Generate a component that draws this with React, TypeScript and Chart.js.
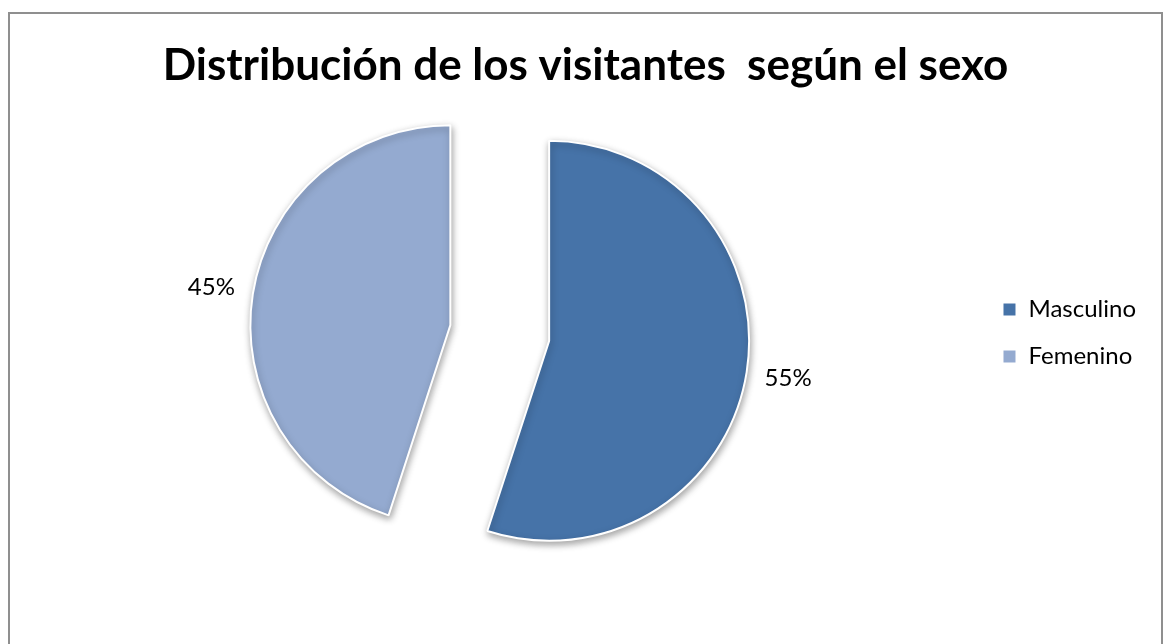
import React, { useEffect, useRef } from "react";
import { Chart, registerables } from "chart.js";

Chart.register(...registerables);

const categories = ["Masculino", "Femenino"];
const percentages = [55, 45];
const sliceColors = ["#4673A8", "#94AAD0"];
const chartTitle = "Distribución de los visitantes  según el sexo";

const FONT = 'Lato, "Open Sans", "DejaVu Sans", sans-serif';
const EXPLODE = 50;
const LABEL_GAP = 42;

const framePlugin = {
  id: "frame",
  beforeDraw(chart: any) {
    const ctx = chart.ctx;
    ctx.save();
    ctx.fillStyle = "#ffffff";
    ctx.fillRect(0, 0, chart.width, chart.height);
    ctx.strokeStyle = "#8f8f8f";
    ctx.lineWidth = 2;
    ctx.strokeRect(9, 13, 1153, 700);
    ctx.restore();
  },
};

const layoutFix = {
  id: "layoutFix",
  afterLayout(chart: any) {
    const t = chart.titleBlock;
    if (t) {
      t.left = 9;
      t.right = 1162;
    }
  },
};

const explodePlugin = {
  id: "explode",
  afterDatasetsUpdate(chart: any) {
    const meta = chart.getDatasetMeta(0);
    meta.data.forEach((arc: any) => {
      const mid = (arc.startAngle + arc.endAngle) / 2;
      arc.x += Math.cos(mid) * EXPLODE;
      arc.y += Math.sin(mid) * EXPLODE;
    });
  },
  beforeDatasetsDraw(chart: any) {
    const ctx = chart.ctx;
    ctx.save();
    ctx.shadowColor = "rgba(0,0,0,0.35)";
    ctx.shadowBlur = 7;
    ctx.shadowOffsetX = 1;
    ctx.shadowOffsetY = 3;
  },
  afterDatasetsDraw(chart: any) {
    const ctx = chart.ctx;
    ctx.restore();
    const meta = chart.getDatasetMeta(0);
    const data = chart.data.datasets[0].data;
    ctx.save();
    ctx.font = `24px ${FONT}`;
    ctx.fillStyle = "#000000";
    ctx.textAlign = "center";
    ctx.textBaseline = "middle";
    meta.data.forEach((arc: any, i: number) => {
      const mid = (arc.startAngle + arc.endAngle) / 2;
      const r = arc.outerRadius + LABEL_GAP;
      ctx.fillText(`${data[i]}%`, arc.x + Math.cos(mid) * r, arc.y + Math.sin(mid) * r);
    });
    ctx.restore();
  },
};

export default function App() {
  const ref = useRef<HTMLCanvasElement | null>(null);

  useEffect(() => {
    if (!ref.current) return;
    Chart.defaults.font.family = FONT;
    const chart = new Chart(ref.current, {
      type: "pie",
      data: {
        labels: categories,
        datasets: [
          {
            data: percentages,
            backgroundColor: sliceColors,
            borderColor: "#ffffff",
            borderWidth: 2,
            radius: 200,
          } as any,
        ],
      },
      options: {
        animation: false,
        responsive: false,
        devicePixelRatio: 1,
        events: [],
        layout: { padding: { left: 20, right: 18, top: 0, bottom: 74.6 } },
        plugins: {
          title: {
            display: true,
            text: chartTitle,
            color: "#000000",
            font: { family: FONT, size: 44, weight: "bold" },
            padding: { top: 39.6, bottom: 4.2 },
          },
          legend: {
            position: "right",
            fullSize: false,
            labels: {
              color: "#000000",
              font: { family: FONT, size: 24 },
              boxWidth: 14,
              boxHeight: 14,
              padding: 23,
            },
          },
          tooltip: { enabled: false },
        },
      },
      plugins: [framePlugin, layoutFix, explodePlugin],
    });
    return () => chart.destroy();
  }, []);

  return (
    <div style={{ position: "absolute", left: 0, top: 0, width: 1164, height: 644 }}>
      <canvas ref={ref} width={1164} height={644} style={{ display: "block", width: 1164, height: 644 }} />
    </div>
  );
}
